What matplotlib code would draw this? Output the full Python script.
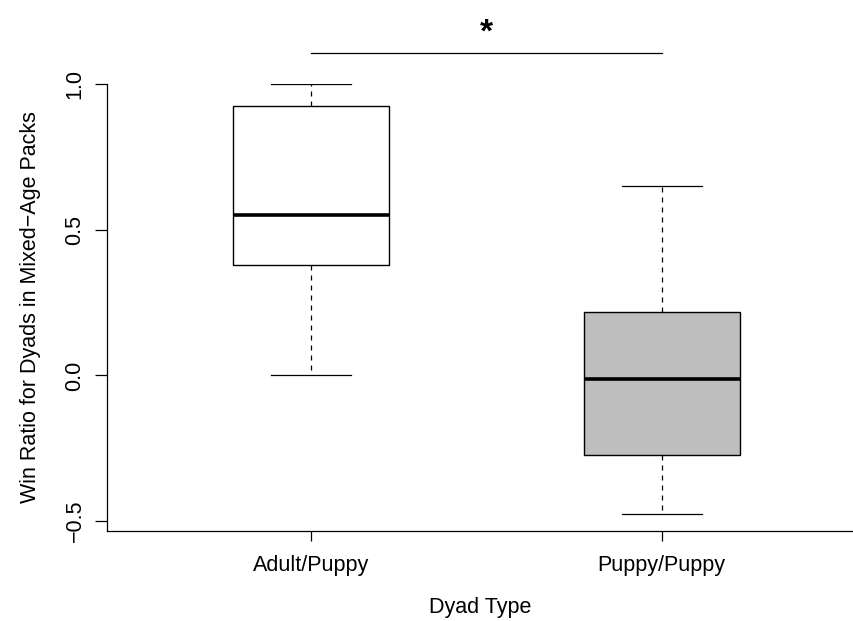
import matplotlib
matplotlib.use("Agg")
import matplotlib.pyplot as plt

plt.rcParams["font.family"] = ["Liberation Sans", "DejaVu Sans"]

# values
groups = ["Adult/Puppy", "Puppy/Puppy"]
whislo = [0.0, -0.477]
q1 = [0.380, -0.272]
med = [0.551, -0.014]
q3 = [0.926, 0.217]
whishi = [1.0, 0.649]
fills = ["white", "#BEBEBE"]
yticks = [-0.5, 0.0, 0.5, 1.0]
sig_y = 1.108

fig = plt.figure(figsize=(8.54, 6.21), dpi=100)
ax = fig.add_axes([107 / 854, 1 - 531 / 621, 1 - 107 / 854, 447 / 621])

stats = [dict(label=g, whislo=lo, q1=a, med=m, q3=b, whishi=hi, fliers=[])
         for g, lo, a, m, b, hi in zip(groups, whislo, q1, med, q3, whishi)]
bp = ax.bxp(stats, positions=[1, 2], widths=0.446, patch_artist=True,
            showfliers=False,
            boxprops=dict(edgecolor="black", linewidth=1.0),
            medianprops=dict(color="black", linewidth=2.6, solid_capstyle="butt"),
            whiskerprops=dict(color="black", linewidth=0.9, linestyle=(0, (4, 4))),
            capprops=dict(color="black", linewidth=0.9),
            capwidths=0.229)
for patch, c in zip(bp["boxes"], fills):
    patch.set_facecolor(c)

ax.set_xlim(0.417, 2.549)
ax.set_ylim(-0.534, 1.0)
ax.set_yticks(yticks)
ax.set_yticklabels([f"{t:.1f}".replace("-", "\u2212") for t in yticks],
                   rotation=90, va="center")
ax.set_xticks([1, 2])
ax.set_xticklabels(groups)
ax.tick_params(axis="both", labelsize=15.5, length=8.5, width=0.9, color="black")
ax.tick_params(axis="y", pad=7)
ax.tick_params(axis="x", pad=10, length=7.5)

for s in ["top", "right"]:
    ax.spines[s].set_visible(False)
for s in ["left", "bottom"]:
    ax.spines[s].set_linewidth(0.9)

ax.set_ylabel("Win Ratio for Dyads in Mixed\u2212Age Packs", fontsize=15.5)
ax.yaxis.set_label_coords(-0.103, 0.5)
ax.yaxis.label.set_va("center")
ax.set_xlabel("Dyad Type", fontsize=15.5)
ax.xaxis.set_label_coords(0.5, -0.172)
ax.xaxis.label.set_va("center")

# significance bar
ax.plot([1, 2], [sig_y, sig_y], color="black", lw=0.9, clip_on=False)
ax.text(1.5, sig_y + 0.068, "*", ha="center", va="center", fontsize=24,
        fontweight="bold", clip_on=False)

fig.savefig("out.png", dpi=100)
